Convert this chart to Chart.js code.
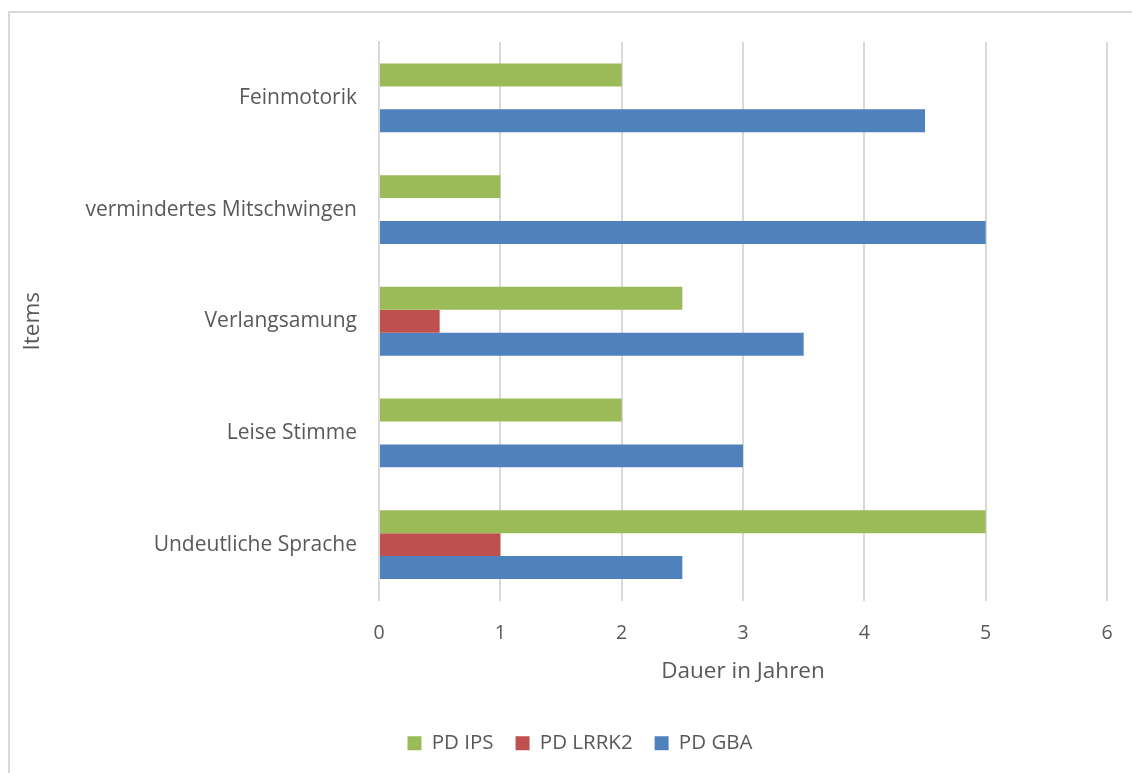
<!DOCTYPE html>
<html lang="de">
<head>
<meta charset="utf-8">
<title>Dauer in Jahren</title>
<script src="https://cdn.jsdelivr.net/npm/chart.js@4.4.1/dist/chart.umd.min.js"></script>
<style>
  html, body { margin: 0; padding: 0; background: #fff; overflow: hidden; }
  #frame {
    position: absolute; left: 8px; top: 11px; width: 1200px; height: 800px;
    border-top: 2px solid #d9d9d9; border-left: 2px solid #d9d9d9;
  }
  #wrap { position: absolute; left: 0; top: 0; width: 1160px; height: 773px; }
</style>
</head>
<body>
<div id="frame"></div>
<div id="wrap"><canvas id="dauer-chart"></canvas></div>
<script>
const categories = [
  "Feinmotorik",
  "vermindertes Mitschwingen",
  "Verlangsamung",
  "Leise Stimme",
  "Undeutliche Sprache",
];

const pdIps = [2, 1, 2.5, 2, 5];
const pdLrrk2 = [null, null, 0.5, null, 1];
const pdGba = [4.5, 5, 3.5, 3, 2.5];

const xTicks = [0, 1, 2, 3, 4, 5, 6];

const colors = {
  ips: "#9BBB59",
  lrrk2: "#C0504D",
  gba: "#4F81BD",
  grid: "#d9d9d9",
  text: "#595959",
};

const fontFamily = "'Open Sans', Lato, sans-serif";

const ctx = document.getElementById("dauer-chart").getContext("2d");

new Chart(ctx, {
  type: "bar",
  data: {
    labels: categories,
    datasets: [
      { label: "PD IPS", data: pdIps, backgroundColor: colors.ips },
      { label: "PD LRRK2", data: pdLrrk2, backgroundColor: colors.lrrk2 },
      { label: "PD GBA", data: pdGba, backgroundColor: colors.gba },
    ],
  },
  options: {
    indexAxis: "y",
    responsive: true,
    maintainAspectRatio: false,
    animation: false,
    datasets: {
      bar: {
        barPercentage: 1,
        categoryPercentage: 0.616,
      },
    },
    layout: {
      padding: { top: 42, left: 53, right: 53, bottom: 9.5 },
    },
    plugins: {
      tooltip: { enabled: false },
      legend: {
        position: "bottom",
        labels: {
          boxWidth: 14,
          boxHeight: 14,
          padding: 22,
          color: colors.text,
          font: { size: 20.5, family: fontFamily },
        },
      },
    },
    scales: {
      x: {
        min: 0,
        max: 6,
        afterBuildTicks: (scale) => {
          scale.ticks = xTicks.map((value) => ({ value }));
        },
        afterFit: (scale) => {
          scale.height = 110.5;
        },
        grid: {
          color: colors.grid,
          lineWidth: 2,
          drawTicks: false,
        },
        border: { display: false },
        ticks: {
          padding: 21,
          color: colors.text,
          font: { size: 19.5, family: fontFamily },
        },
        title: {
          display: true,
          text: "Dauer in Jahren",
          color: colors.text,
          padding: { bottom: 26 },
          font: { size: 22.5, family: fontFamily },
        },
      },
      y: {
        afterFit: (scale) => {
          scale.width = 326;
        },
        grid: { display: false, drawTicks: false },
        border: { display: true, color: colors.grid, width: 2 },
        ticks: {
          padding: 22,
          color: colors.text,
          font: { size: 21, family: fontFamily },
        },
        title: {
          display: true,
          text: "Items",
          color: colors.text,
          padding: { top: -34 },
          font: { size: 22.5, family: fontFamily },
        },
      },
    },
  },
});
</script>
</body>
</html>
